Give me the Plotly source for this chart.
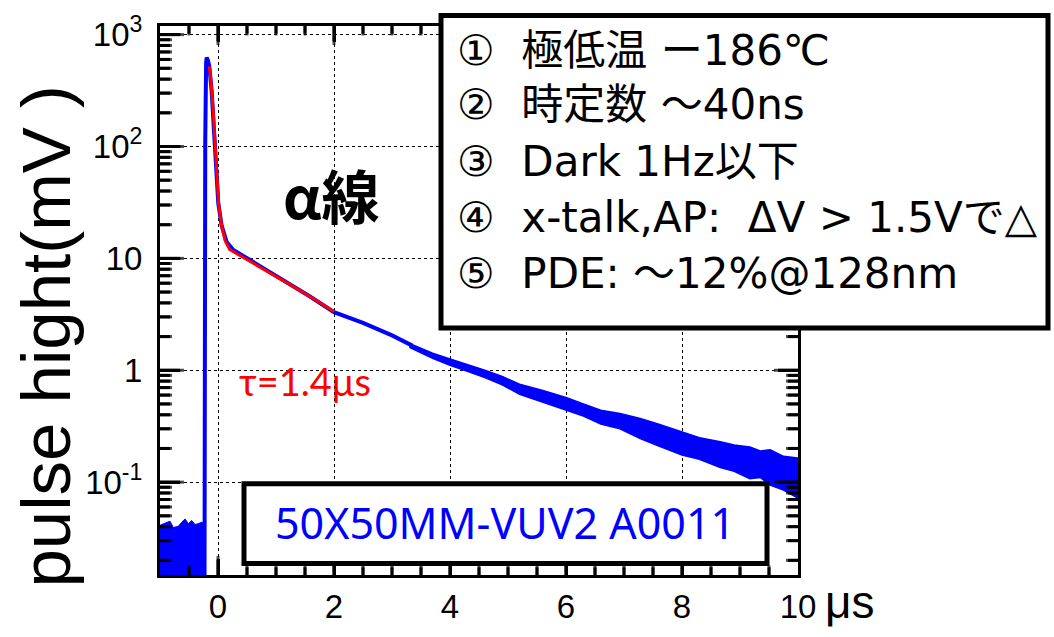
import math
import plotly.graph_objects as go

# ---------------- data ----------------
base_x = [-1.0, -0.885, -0.828, -0.77, -0.684, -0.626, -0.569, -0.511, -0.454, -0.397, -0.339, -0.282, -0.236]
base_hi = [0.0411, 0.0438, 0.0448, 0.0393, 0.0403, 0.0438, 0.0469, 0.0425, 0.0454, 0.0419, 0.0425, 0.0438, 0.0425]
base_floor = 0.001

pulse_x = [-0.236, -0.236, -0.22, -0.205, -0.195, -0.175, -0.15, -0.109, -0.081, -0.052, -0.022, 0.005,
           0.064, 0.15, 0.264, 0.495, 0.724, 1.13, 1.586, 2.0, 2.5, 3.0, 3.35]
pulse_y = [0.001, 107, 110, 560, 625, 590, 523, 310, 183, 95, 49, 31,
           19.5, 14.0, 11.9, 10.1, 8.4, 6.3, 4.56, 3.3, 2.65, 2.05, 1.66]

tail_x = [3.3, 3.7, 4.0, 4.3, 4.6, 4.9, 5.2, 5.6, 6.0, 6.3, 6.6, 6.93, 7.28, 7.6, 8.0, 8.3, 8.66,
          8.9, 9.17, 9.35, 9.52, 9.75, 10.0]
tail_hi = [1.74, 1.42, 1.26, 1.13, 1.00, 0.88, 0.75, 0.66, 0.57, 0.50, 0.44, 0.41, 0.37, 0.33, 0.28,
           0.25, 0.23, 0.215, 0.206, 0.19, 0.195, 0.17, 0.164]
tail_lo = [1.60, 1.28, 1.11, 0.98, 0.86, 0.74, 0.61, 0.52, 0.44, 0.39, 0.33, 0.30, 0.245, 0.21, 0.175,
           0.16, 0.135, 0.125, 0.107, 0.11, 0.094, 0.085, 0.072]

fit_x = [-0.15, -0.12, -0.08, -0.05, -0.02, 0.01, 0.06, 0.12, 0.2, 0.3, 0.5, 0.75, 1.0, 1.25, 1.5, 1.75, 2.0]
fit_y = [520, 380, 200, 100, 52, 31, 20, 14.5, 12.0, 11.2, 9.9, 8.2, 6.9, 5.8, 4.85, 4.05, 3.35]

y_tickvals = [0.1, 1, 10, 100, 1000]
y_ticktext = ["10<sup>-1</sup>", "1", "10", "10<sup>2</sup>", "10<sup>3</sup>"]
x_tickvals = [0, 2, 4, 6, 8, 10]
x_range = [-1, 10]
y_log_range = [-1.83, 3.077]

info_lines = ["①  極低温 ー186℃", "②  時定数 ～40ns", "③  Dark 1Hz以下",
              "④  x-talk,AP:  ΔV > 1.5Vで△", "⑤  PDE: ～12%@128nm"]
sample_label = "50X50MM-VUV2 A0011"
tau_label = "τ=1.4μs"
particle_label = "α線"

W, H = 1054, 637
L, R, T, B = 160, 798, 15, 586
PW, PH = R - L, B - T


def px(x):
    return (x - L) / PW


def py(y):
    return (B - y) / PH


BLUE = "#0000FF"
RED = "#FF0000"

fig = go.Figure()

fig.add_trace(go.Scatter(
    x=base_x + [base_x[-1], base_x[0]],
    y=base_hi + [base_floor, base_floor],
    fill="toself", fillcolor=BLUE, mode="lines",
    line=dict(color=BLUE, width=1), hoverinfo="skip", showlegend=False))

fig.add_trace(go.Scatter(
    x=tail_x + tail_x[::-1], y=tail_hi + tail_lo[::-1],
    fill="toself", fillcolor=BLUE, mode="lines",
    line=dict(color=BLUE, width=1.5), hoverinfo="skip", showlegend=False))

fig.add_trace(go.Scatter(x=pulse_x, y=pulse_y, mode="lines",
                         line=dict(color=BLUE, width=4), showlegend=False))

fig.add_trace(go.Scatter(x=fit_x, y=fit_y, mode="lines",
                         line=dict(color=RED, width=3), showlegend=False))

# ---- inside tick marks on all four sides, built on the axes' own scales ----
x_span = x_range[1] - x_range[0]
y_span = y_log_range[1] - y_log_range[0]
tx, ty = [], []
mvx, mvy, mvs = [], [], []      # vertical tick markers (x axes)
mhx, mhy, mhs = [], [], []      # horizontal tick markers (y axes)
for i in range(1, int(x_span / 0.5)):
    v = x_range[0] + 0.5 * i
    length = 16 if v in x_tickvals else 8
    dl = length / PH * y_span
    tx += [v, v, None, v, v, None]
    ty += [10 ** y_log_range[0], 10 ** (y_log_range[0] + dl), None,
           10 ** y_log_range[1], 10 ** (y_log_range[1] - dl), None]
    mvx += [v, v]
    mvy += [10 ** (y_log_range[0] + dl / 2), 10 ** (y_log_range[1] - dl / 2)]
    mvs += [length, length]
for e in range(math.floor(y_log_range[0]), math.ceil(y_log_range[1]) + 1):
    for k in range(1, 10):
        v = k * 10.0 ** e
        if not (y_log_range[0] < math.log10(v) < y_log_range[1]):
            continue
        length = 20 if k == 1 else 10
        dx = length / PW * x_span
        tx += [x_range[0], x_range[0] + dx, None, x_range[1], x_range[1] - dx, None]
        ty += [v, v, None, v, v, None]
        mhx += [x_range[0] + dx / 2, x_range[1] - dx / 2]
        mhy += [v, v]
        mhs += [length, length]

fig.add_trace(go.Scatter(x=tx, y=ty, mode="lines", line=dict(color="black", width=3),
                         hoverinfo="skip", showlegend=False, connectgaps=False))
fig.add_trace(go.Scatter(x=mvx, y=mvy, mode="markers", hoverinfo="skip", showlegend=False,
                         marker=dict(symbol="line-ns", size=mvs, color="black",
                                     line=dict(color="black", width=3))))
fig.add_trace(go.Scatter(x=mhx, y=mhy, mode="markers", hoverinfo="skip", showlegend=False,
                         marker=dict(symbol="line-ew", size=mhs, color="black",
                                     line=dict(color="black", width=3))))

tickfont = dict(family="Liberation Sans Narrow, Liberation Sans, Arial", size=33, color="black")

fig.update_layout(
    xaxis=dict(
        range=x_range, tickmode="array", tickvals=x_tickvals,
        ticks="inside", ticklen=16, tickwidth=3, tickcolor="black",
        showline=True, linecolor="black", linewidth=3, mirror="ticks",
        showgrid=True, gridcolor="black", griddash="dot", gridwidth=1,
        zeroline=False, tickfont=tickfont),
    yaxis=dict(
        type="log", range=y_log_range, tickmode="array",
        tickvals=y_tickvals, ticktext=y_ticktext,
        ticks="inside", ticklen=20, tickwidth=3, tickcolor="black",
        showline=True, linecolor="black", linewidth=3, mirror="ticks",
        showgrid=True, gridcolor="black", griddash="dot", gridwidth=1,
        zeroline=False, tickfont=tickfont, ticklabelstandoff=8),
)

shapes = [
    dict(type="rect", xref="paper", yref="paper", x0=px(441), x1=px(1048), y0=py(329), y1=py(4),
         line=dict(color="black", width=5), fillcolor="white", layer="above"),
    dict(type="rect", xref="paper", yref="paper", x0=px(244), x1=px(767), y0=py(574), y1=py(491),
         line=dict(color="black", width=5), fillcolor="white", layer="above"),
]

annotations = []
line_y = [40, 97, 156, 214, 272]
for txt, yy in zip(info_lines, line_y):
    annotations.append(dict(text=txt, xref="paper", yref="paper", x=px(455), y=py(yy),
                            xanchor="left", yanchor="middle", showarrow=False,
                            font=dict(family="DejaVu Sans, Noto Sans CJK JP", size=42, color="black")))

annotations.append(dict(text=sample_label, xref="paper", yref="paper", x=px(505), y=py(531),
                        xanchor="center", yanchor="middle", showarrow=False,
                        font=dict(family="Noto Sans", size=43, color=BLUE)))
annotations.append(dict(text=tau_label, xref="paper", yref="paper", x=px(305), y=py(384),
                        xanchor="center", yanchor="middle", showarrow=False,
                        font=dict(family="Lato", size=38, color=RED)))
annotations.append(dict(text="<b>" + particle_label + "</b>", xref="paper", yref="paper",
                        x=px(331), y=py(190), xanchor="center", yanchor="middle", showarrow=False,
                        font=dict(family="Noto Sans CJK JP", size=58, color="black")))
annotations.append(dict(text="pulse hight(mV )", xref="paper", yref="paper", x=px(47), y=py(338),
                        xanchor="center", yanchor="middle", textangle=-90, showarrow=False,
                        font=dict(family="Liberation Sans, Arial", size=69, color="black")))
annotations.append(dict(text="μs", xref="paper", yref="paper", x=px(823), y=py(614),
                        xanchor="left", yanchor="middle", showarrow=False,
                        font=dict(family="Liberation Sans Narrow, Liberation Sans", size=46, color="black")))

fig.update_layout(
    width=W, height=H, margin=dict(l=L, r=W - R, t=T, b=H - B),
    paper_bgcolor="white", plot_bgcolor="white",
    shapes=shapes, annotations=annotations, showlegend=False)

fig.write_html("out.html")
